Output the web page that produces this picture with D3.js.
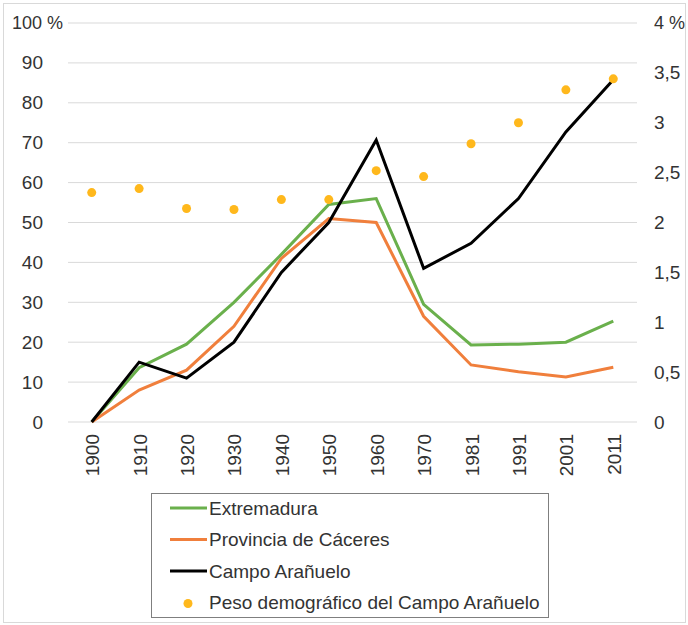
<!DOCTYPE html>
<html>
<head>
<meta charset="utf-8">
<script src="https://cdn.jsdelivr.net/npm/d3@7"></script>
<style>
  body { margin: 0; background: #fff; }
  text { font-family: "Liberation Sans", Arial, sans-serif; fill: #333; }
</style>
</head>
<body>
<svg id="visu" width="688" height="625"></svg>
<script>
var years = ["1900", "1910", "1920", "1930", "1940", "1950", "1960", "1970", "1981", "1991", "2001", "2011"];
var extremadura = [0, 13.6, 19.5, 30, 42, 54.5, 56, 29.5, 19.3, 19.5, 20, 25.3];
var caceres = [0, 8, 13, 24, 41, 51, 50, 26.5, 14.3, 12.6, 11.3, 13.7];
var campo = [0, 15, 11, 20, 37.5, 50, 70.7, 38.5, 44.8, 56, 72.7, 85.8];
var peso = [2.30, 2.34, 2.14, 2.13, 2.23, 2.23, 2.52, 2.46, 2.79, 3.00, 3.33, 3.44];
var leftTicks = [0, 10, 20, 30, 40, 50, 60, 70, 80, 90, 100];
var rightTicks = [0, 0.5, 1, 1.5, 2, 2.5, 3, 3.5, 4];

var vis = d3.select("#visu"),
    WIDTH = 688,
    HEIGHT = 625,
    MARGINS = { top: 23, right: 51, bottom: 203, left: 68 };

var xScale = d3.scalePoint()
    .domain(years)
    .range([MARGINS.left, WIDTH - MARGINS.right])
    .padding(0.5);
var yScale = d3.scaleLinear()
    .domain([0, 100])
    .range([HEIGHT - MARGINS.bottom, MARGINS.top]);
var y2Scale = d3.scaleLinear()
    .domain([0, 4])
    .range([HEIGHT - MARGINS.bottom, MARGINS.top]);

// outer frame
vis.append("rect")
    .attr("x", 3.5).attr("y", 3.5)
    .attr("width", WIDTH - 6).attr("height", HEIGHT - 6)
    .attr("fill", "none").attr("stroke", "#d9d9d9");

// gridlines
vis.append("g").selectAll("line")
    .data(leftTicks)
    .enter().append("line")
    .attr("x1", MARGINS.left).attr("x2", WIDTH - MARGINS.right)
    .attr("y1", function(d) { return yScale(d); })
    .attr("y2", function(d) { return yScale(d); })
    .attr("stroke", "#d9d9d9").attr("stroke-width", 1);

// left axis labels
var yAxis = d3.axisLeft(yScale)
    .tickValues(leftTicks)
    .tickSize(0)
    .tickPadding(0)
    .tickFormat(function(d) { return d === 100 ? "100 %" : d; });
var gy = vis.append("g")
    .attr("transform", "translate(43,0)")
    .call(yAxis);
gy.select(".domain").remove();
gy.selectAll("text").attr("font-size", 19).style("fill", "#333");
gy.selectAll("text").filter(function(d) { return d === 100; })
    .attr("font-size", 18).attr("x", 20);

// right axis labels
var y2Axis = d3.axisRight(y2Scale)
    .tickValues(rightTicks)
    .tickSize(0)
    .tickPadding(0)
    .tickFormat(function(d) { return d === 4 ? "4 %" : String(d).replace(".", ","); });
var gy2 = vis.append("g")
    .attr("transform", "translate(654,0)")
    .call(y2Axis);
gy2.select(".domain").remove();
gy2.selectAll("text").attr("font-size", 19).style("fill", "#333");
gy2.selectAll("text").filter(function(d) { return d === 4; }).attr("font-size", 18);

// x axis labels (rotated)
var xAxis = d3.axisBottom(xScale).tickSize(0).tickPadding(0);
var gx = vis.append("g")
    .attr("transform", "translate(0," + (HEIGHT - MARGINS.bottom) + ")")
    .call(xAxis);
gx.select(".domain").remove();
gx.selectAll("text")
    .attr("font-size", 19)
    .style("fill", "#333")
    .attr("text-anchor", "end")
    .attr("dy", null)
    .attr("y", 0)
    .attr("transform", "translate(7,12) rotate(-90)");

var lineGen = function(vals) {
    return d3.line()
        .x(function(d, i) { return xScale(years[i]); })
        .y(function(d) { return yScale(d); })(vals);
};

var series = [
    { name: "Extremadura", values: extremadura, color: "#6ab04c" },
    { name: "Provincia de Cáceres", values: caceres, color: "#f07f3c" },
    { name: "Campo Arañuelo", values: campo, color: "#000000" }
];

series.forEach(function(s) {
    vis.append("path")
        .attr("d", lineGen(s.values))
        .attr("stroke", s.color)
        .attr("stroke-width", 3)
        .attr("stroke-linejoin", "miter")
        .attr("fill", "none");
});

vis.append("g").selectAll("circle")
    .data(peso)
    .enter().append("circle")
    .attr("cx", function(d, i) { return xScale(years[i]); })
    .attr("cy", function(d) { return y2Scale(d); })
    .attr("r", 4.5)
    .attr("fill", "#ffb81c");

// legend
var legend = vis.append("g");
legend.append("rect")
    .attr("x", 151.5).attr("y", 493.5)
    .attr("width", 397).attr("height", 124)
    .attr("fill", "#fff").attr("stroke", "#7f7f7f").attr("stroke-width", 1);

var legendItems = series.concat([{ name: "Peso demográfico del Campo Arañuelo", color: "#ffb81c", dot: true }]);
legendItems.forEach(function(s, i) {
    var cy = 508 + i * 31.5;
    if (s.dot) {
        legend.append("circle")
            .attr("cx", 188).attr("cy", cy + 1)
            .attr("r", 4.5).attr("fill", s.color);
    } else {
        legend.append("line")
            .attr("x1", 170).attr("x2", 207)
            .attr("y1", cy).attr("y2", cy)
            .attr("stroke", s.color).attr("stroke-width", 3);
    }
    legend.append("text")
        .attr("x", 209).attr("y", cy)
        .attr("dy", "0.35em")
        .attr("font-size", 19)
        .text(s.name);
});
</script>
</body>
</html>
